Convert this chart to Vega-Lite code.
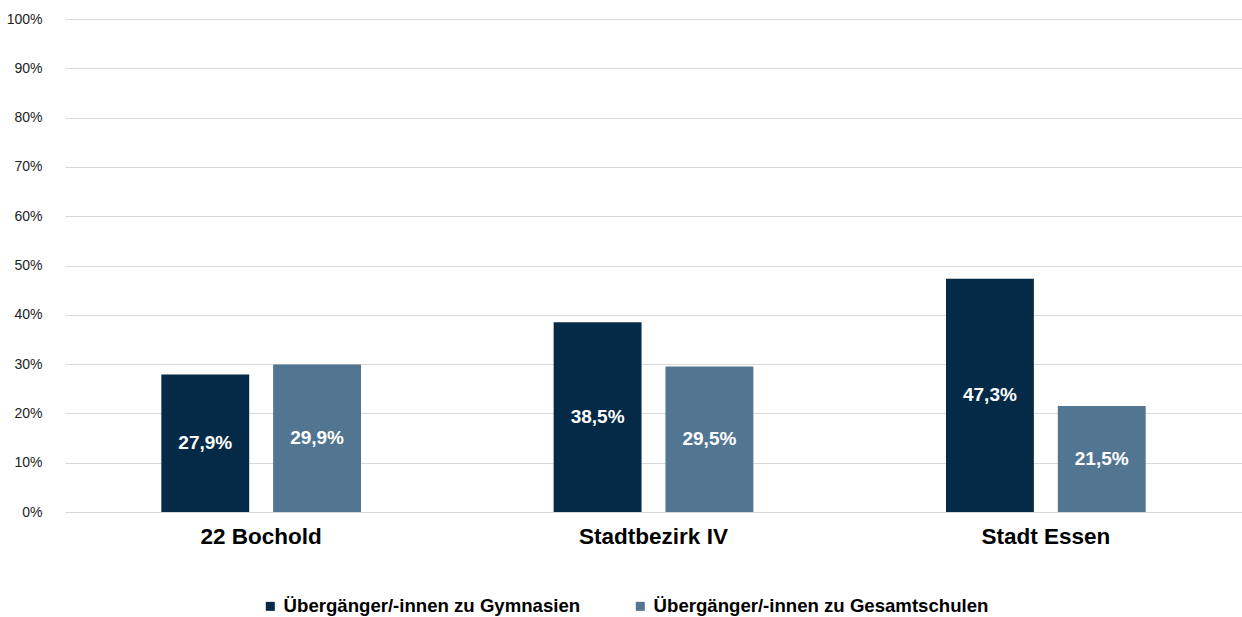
{
  "$schema": "https://vega.github.io/schema/vega-lite/v6.json",
  "width": 1177,
  "height": 493,
  "autosize": "none",
  "padding": {"left": 65, "top": 19, "right": 0, "bottom": 105},
  "background": "white",
  "config": {
    "locale": {"number": {"decimal": ",", "thousands": ".", "grouping": [3], "currency": ["", " €"]}},
    "font": "Liberation Sans",
    "view": {"stroke": null}
  },
  "data": {
    "values": [
      {"gebiet": "22 Bochold", "gruppe": "Übergänger/-innen zu Gymnasien", "wert": 0.279},
      {"gebiet": "22 Bochold", "gruppe": "Übergänger/-innen zu Gesamtschulen", "wert": 0.299},
      {"gebiet": "Stadtbezirk IV", "gruppe": "Übergänger/-innen zu Gymnasien", "wert": 0.385},
      {"gebiet": "Stadtbezirk IV", "gruppe": "Übergänger/-innen zu Gesamtschulen", "wert": 0.295},
      {"gebiet": "Stadt Essen", "gruppe": "Übergänger/-innen zu Gymnasien", "wert": 0.473},
      {"gebiet": "Stadt Essen", "gruppe": "Übergänger/-innen zu Gesamtschulen", "wert": 0.215}
    ]
  },
  "encoding": {
    "x": {
      "field": "gebiet", "type": "nominal", "sort": null, "title": null,
      "scale": {"paddingInner": 0.491, "paddingOuter": 0.2455},
      "axis": {"labelAngle": 0, "labelFont": "Liberation Sans", "labelFontSize": 22.5, "labelFontWeight": "bold", "labelColor": "#000000", "labelPadding": 13, "ticks": false, "domain": false}
    },
    "xOffset": {
      "field": "gruppe", "type": "nominal",
      "sort": ["Übergänger/-innen zu Gymnasien", "Übergänger/-innen zu Gesamtschulen"],
      "scale": {"paddingInner": 0.214, "paddingOuter": 0}
    }
  },
  "layer": [
    {
      "mark": {"type": "bar"},
      "encoding": {
        "y": {
          "field": "wert", "type": "quantitative",
          "scale": {"domain": [0, 1]},
          "title": null,
          "axis": {"format": ".0%", "values": [0, 0.1, 0.2, 0.3, 0.4, 0.5, 0.6, 0.7, 0.8, 0.9, 1], "labelOverlap": false, "labelFontSize": 14, "labelColor": "#222222", "labelPadding": 23, "ticks": false, "domain": false, "gridColor": "#d9d9d9", "gridWidth": 1.2}
        },
        "color": {
          "field": "gruppe", "type": "nominal", "title": null,
          "sort": ["Übergänger/-innen zu Gymnasien", "Übergänger/-innen zu Gesamtschulen"],
          "scale": {"domain": ["Übergänger/-innen zu Gymnasien", "Übergänger/-innen zu Gesamtschulen"], "range": ["#042a47", "#527592"]},
          "legend": {
            "orient": "none", "direction": "horizontal",
            "legendX": 196, "legendY": 578,
            "symbolType": "square", "symbolSize": 81, "symbolStrokeWidth": 0,
            "labelFont": "Liberation Sans", "labelFontSize": 18.6, "labelFontWeight": "bold", "labelColor": "#000000",
            "labelOffset": 4, "columnPadding": 50, "labelLimit": 500
          }
        }
      }
    },
    {
      "transform": [{"calculate": "datum.wert / 2", "as": "mitte"}],
      "mark": {"type": "text", "color": "white", "fontSize": 19, "fontWeight": "bold", "font": "Liberation Sans", "baseline": "middle"},
      "encoding": {
        "y": {"field": "mitte", "type": "quantitative"},
        "text": {"field": "wert", "type": "quantitative", "format": ".1%"}
      }
    }
  ]
}
